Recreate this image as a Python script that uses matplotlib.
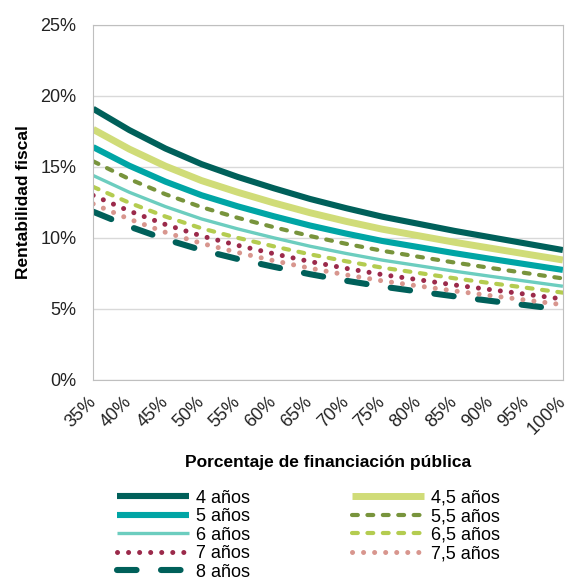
# Rentabilidad fiscal vs porcentaje de financiación pública, por años

import numpy as np
import matplotlib.pyplot as plt

plt.rcParams['font.family'] = ['Liberation Sans', 'DejaVu Sans']

pct = ['35%', '40%', '45%', '50%', '55%', '60%', '65%', '70%', '75%',
       '80%', '85%', '90%', '95%', '100%']

# valores (%)
r4 = [19.1, 17.6, 16.3, 15.2, 14.3, 13.5, 12.75, 12.1, 11.5, 11.0, 10.5, 10.05, 9.6, 9.15]
r45 = [17.65, 16.26, 15.06, 14.04, 13.22, 12.47, 11.78, 11.17, 10.62, 10.16, 9.70, 9.28, 8.86, 8.45]
r5 = [16.4, 15.09, 13.97, 13.01, 12.23, 11.53, 10.88, 10.31, 9.79, 9.36, 8.93, 8.53, 8.14, 7.75]
r55 = [15.4, 14.15, 13.08, 12.17, 11.42, 10.76, 10.14, 9.59, 9.10, 8.68, 8.27, 7.89, 7.52, 7.15]
r6 = [14.4, 13.22, 12.21, 11.34, 10.64, 10.01, 9.42, 8.91, 8.44, 8.05, 7.66, 7.30, 6.95, 6.6]
r65 = [13.6, 12.48, 11.51, 10.68, 10.01, 9.41, 8.85, 8.36, 7.91, 7.54, 7.16, 6.82, 6.49, 6.15]
r7 = [13.0, 11.90, 10.95, 10.14, 9.48, 8.89, 8.34, 7.86, 7.42, 7.06, 6.69, 6.36, 6.03, 5.7]
r75 = [12.4, 11.33, 10.40, 9.62, 8.98, 8.40, 7.87, 7.40, 6.98, 6.62, 6.27, 5.94, 5.62, 5.3]
r8 = [11.85, 10.81, 9.91, 9.15, 8.52, 7.97, 7.45, 6.99, 6.58, 6.23, 5.89, 5.57, 5.26, 4.95]

x = np.arange(len(pct))

fig = plt.figure(figsize=(5.68, 5.81), dpi=100)
ax = fig.add_axes([0.164, 0.346, 0.827, 0.611])

ax.set_axisbelow(True)
ax.grid(axis='y', color='#d9d9d9', linewidth=1)

h4, = ax.plot(x, r4, color='#00605a', lw=4.4, solid_capstyle='butt', label='4 años')
h5, = ax.plot(x, r5, color='#00a5a5', lw=4.4, solid_capstyle='butt', label='5 años')
h6, = ax.plot(x, r6, color='#6ccdbf', lw=2.4, solid_capstyle='butt', label='6 años')
h7, = ax.plot(x, r7, color='#9b2a4b', lw=3.6, ls=(0, (0.01, 2.2)), dash_capstyle='round', label='7 años')
h8, = ax.plot(x, r8, color='#00605a', lw=4.4, ls=(0, (3.2, 4.0)), dash_capstyle='round', label='8 años')
h45, = ax.plot(x, r45, color='#d0dc78', lw=5.0, solid_capstyle='butt', label='4,5 años')
h55, = ax.plot(x, r55, color='#78943c', lw=3.0, ls=(0, (1.4, 2.3)), dash_capstyle='round', label='5,5 años')
h65, = ax.plot(x, r65, color='#b4cc50', lw=3.0, ls=(0, (1.4, 2.3)), dash_capstyle='round', label='6,5 años')
h75, = ax.plot(x, r75, color='#d8968e', lw=3.6, ls=(0, (0.01, 2.2)), dash_capstyle='round', label='7,5 años')

ax.set_xlim(0, len(pct) - 1)
ax.set_ylim(0, 25)
ax.set_yticks([0, 5, 10, 15, 20, 25])
ax.set_yticklabels(['0%', '5%', '10%', '15%', '20%', '25%'], fontsize=13)
ax.set_xticks(x)
ax.set_xticklabels(pct, fontsize=13, rotation=45, ha='right', va='center', rotation_mode='anchor')
ax.tick_params(axis='y', length=0, pad=12, colors='#222222')
ax.tick_params(axis='x', length=0, pad=14, colors='#222222')
for s in ax.spines.values():
    s.set_color('#bfbfbf')

ax.set_ylabel('Rentabilidad fiscal', fontsize=12.5, fontweight='bold', labelpad=7)
ax.set_xlabel('Porcentaje de financiación pública', fontsize=12.5, fontweight='bold', labelpad=12)

handles = [h4, h5, h6, h7, h8, h45, h55, h65, h75]
fig.legend(handles=handles, labels=[h.get_label() for h in handles], ncol=2,
           loc='upper left', bbox_to_anchor=(0.206, 0.157), frameon=False,
           fontsize=13, handlelength=4.0, handletextpad=0.4, columnspacing=5.6,
           labelspacing=0.08, borderpad=0, borderaxespad=0)

plt.savefig('out.png', dpi=100)
